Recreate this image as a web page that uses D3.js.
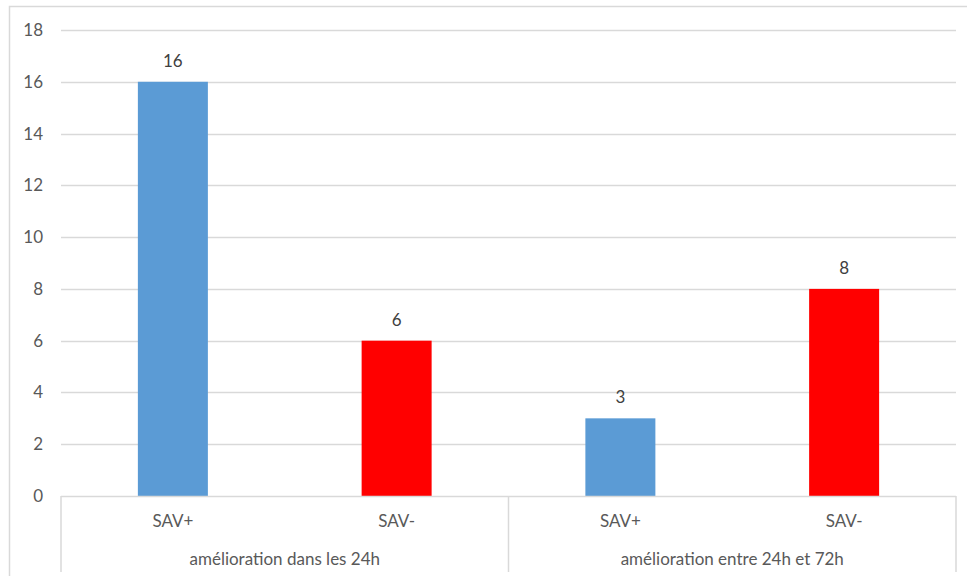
<!DOCTYPE html>
<html>
<head>
<meta charset="utf-8">
<script src="https://cdn.jsdelivr.net/npm/d3@7"></script>
<style>
  body { margin: 0; background: #fff; }
  svg { display: block; font-family: Lato, "Open Sans", sans-serif; }
</style>
</head>
<body>
<script>
// Data
var groups = ["amélioration dans les 24h", "amélioration entre 24h et 72h"];
var labels = ["SAV+", "SAV-", "SAV+", "SAV-"];
var values = [16, 6, 3, 8];
var barGroup = [0, 0, 1, 1];
var barColors = ["#5b9bd5", "#ff0000", "#5b9bd5", "#ff0000"];
var yTicks = [0, 2, 4, 6, 8, 10, 12, 14, 16, 18];

var W = 967, H = 576;
var plotLeft = 61, plotRight = 956, plotTop = 30, plotBottom = 496;
var fs = "17px";

var svg = d3.select("body").append("svg")
  .attr("width", W)
  .attr("height", H);

// outer chart border
svg.append("rect")
  .attr("x", 9.5).attr("y", 6.5)
  .attr("width", 980).attr("height", 600)
  .attr("fill", "none")
  .attr("stroke", "#d9d9d9")
  .attr("stroke-width", 1.5);

var x = d3.scaleBand()
  .domain(d3.range(values.length))
  .range([plotLeft, plotRight]);

var y = d3.scaleLinear()
  .domain([0, 18])
  .range([plotBottom, plotTop]);

// gridlines
svg.append("g").selectAll("line")
  .data(yTicks.slice(1))
  .enter().append("line")
  .attr("x1", plotLeft).attr("x2", plotRight)
  .attr("y1", function (d) { return Math.round(y(d)) + 0.5; })
  .attr("y2", function (d) { return Math.round(y(d)) + 0.5; })
  .attr("stroke", "#d9d9d9")
  .attr("stroke-width", 1.5);

// y axis labels
var yAxis = d3.axisLeft(y).tickValues(yTicks).tickSize(0).tickPadding(18);
var gy = svg.append("g")
  .attr("transform", "translate(" + plotLeft + ",0)")
  .call(yAxis);
gy.select(".domain").remove();
gy.selectAll("text")
  .attr("fill", "#595959")
  .style("font-size", fs)
  .style("font-family", "Lato, 'Open Sans', sans-serif");

// bars
var bw = 70;
svg.append("g").selectAll("rect")
  .data(values)
  .enter().append("rect")
  .attr("x", function (d, i) { return x(i) + x.bandwidth() / 2 - bw / 2; })
  .attr("y", function (d) { return y(d); })
  .attr("width", bw)
  .attr("height", function (d) { return y(0) - y(d); })
  .attr("fill", function (d, i) { return barColors[i]; });

// value labels
svg.append("g").selectAll("text")
  .data(values)
  .enter().append("text")
  .attr("x", function (d, i) { return x(i) + x.bandwidth() / 2; })
  .attr("y", function (d) { return y(d) - 15; })
  .attr("text-anchor", "middle")
  .attr("fill", "#404040")
  .style("font-size", fs)
  .text(function (d) { return d; });

// category axis line
svg.append("line")
  .attr("x1", plotLeft).attr("x2", plotRight)
  .attr("y1", plotBottom + 0.5).attr("y2", plotBottom + 0.5)
  .attr("stroke", "#d9d9d9")
  .attr("stroke-width", 1.5);

// group separators
var seps = [0, 2, 4];
svg.append("g").selectAll("line")
  .data(seps)
  .enter().append("line")
  .attr("x1", function (d) { return d < values.length ? x(d) : plotRight; })
  .attr("x2", function (d) { return d < values.length ? x(d) : plotRight; })
  .attr("y1", plotBottom)
  .attr("y2", 572)
  .attr("stroke", "#d9d9d9")
  .attr("stroke-width", 1.5);

// level 1 labels
svg.append("g").selectAll("text")
  .data(labels)
  .enter().append("text")
  .attr("x", function (d, i) { return x(i) + x.bandwidth() / 2; })
  .attr("y", 527)
  .attr("text-anchor", "middle")
  .attr("fill", "#595959")
  .style("font-size", fs)
  .text(function (d) { return d; });

// level 2 labels
svg.append("g").selectAll("text")
  .data(groups)
  .enter().append("text")
  .attr("x", function (d, gi) {
    var idx = d3.range(values.length).filter(function (i) { return barGroup[i] === gi; });
    return (x(idx[0]) + x(idx[idx.length - 1]) + x.bandwidth()) / 2;
  })
  .attr("y", 565)
  .attr("text-anchor", "middle")
  .attr("fill", "#595959")
  .style("font-size", fs)
  .text(function (d) { return d; });
</script>
</body>
</html>
